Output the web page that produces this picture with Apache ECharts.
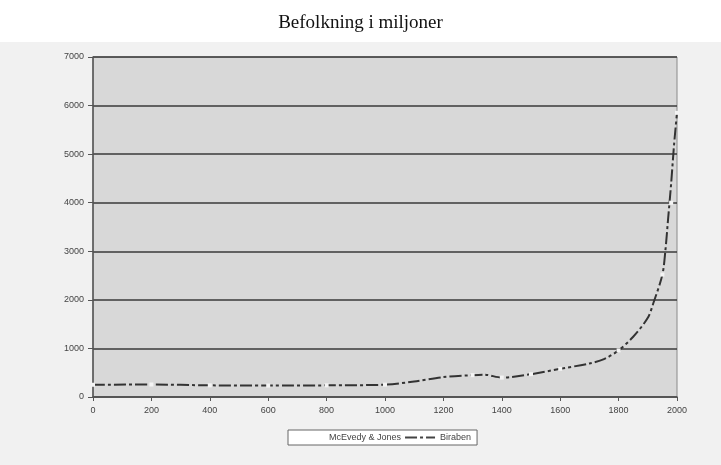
<!DOCTYPE html>
<html><head><meta charset="utf-8">
<script src="https://cdn.jsdelivr.net/npm/echarts@6/dist/echarts.min.js"></script>
<style>html,body{margin:0;padding:0;background:#fff}#c{width:721px;height:465px}</style>
</head><body><div id="c"></div>
<script>
const titleText = "Befolkning i miljoner";
const xTicks = [0, 200, 400, 600, 800, 1000, 1200, 1400, 1600, 1800, 2000];
const yTicks = [0, 1000, 2000, 3000, 4000, 5000, 6000, 7000];
const birabenYears = [0, 200, 400, 600, 800, 1000, 1100, 1200, 1300, 1340, 1400, 1500, 1600, 1700, 1750, 1800, 1850, 1900, 1920, 1950, 1960, 1970, 1980, 1990, 2000];
const birabenValues = [252, 257, 240, 235, 240, 254, 320, 410, 450, 460, 400, 470, 580, 690, 780, 960, 1240, 1630, 1950, 2520, 3000, 3700, 4400, 5200, 5850];
const mcEvedyYears = [0, 200, 400, 600, 800, 1000, 1300, 1400, 1500, 1600, 1800, 1950, 1980, 2000];
const mcEvedyValues = [252, 257, 240, 235, 240, 254, 450, 400, 470, 580, 960, 2520, 4000, 5850];
const seriesNames = ["McEvedy & Jones", "Biraben"];

const chart = echarts.init(document.getElementById('c'), null, {renderer: 'canvas'});
chart.setOption({
  backgroundColor: '#fff',
  animation: false,
  graphic: [{type: 'rect', z: -10, shape: {x: 0, y: 42, width: 721, height: 423}, style: {fill: '#f1f1f1'}}],
  title: {text: titleText, left: 'center', top: 9, textStyle: {fontFamily: 'Liberation Serif', fontWeight: 'normal', fontSize: 19, color: '#111'}},
  grid: {left: 93, right: 44, top: 57, bottom: 68, show: true, backgroundColor: '#d8d8d8', borderColor: '#8a8a8a', borderWidth: 1},
  legend: {
    top: 430, left: 288,
    data: [
      {name: seriesNames[0], icon: 'rect', itemStyle: {color: '#fff', opacity: 0}},
      {name: seriesNames[1], icon: 'path://M0 0H12V2H0ZM15 0H18V2H15ZM21 0H30V2H21Z', itemStyle: {color: '#444'}}
    ],
    backgroundColor: '#fff', borderColor: '#666', borderWidth: 1, padding: [3, 6, 3, 6], itemGap: 4, itemWidth: 30, itemHeight: 2,
    textStyle: {fontFamily: 'Liberation Sans', fontSize: 9, color: '#444'}
  },
  xAxis: {
    type: 'value', min: xTicks[0], max: xTicks[xTicks.length - 1], interval: 200,
    axisLine: {lineStyle: {color: '#555', width: 1.5}}, axisTick: {show: true, length: 4, lineStyle: {color: '#555'}},
    splitLine: {show: false},
    axisLabel: {fontFamily: 'Liberation Sans', fontSize: 9, color: '#444', margin: 9, formatter: v => String(v)}
  },
  yAxis: {
    type: 'value', min: yTicks[0], max: yTicks[yTicks.length - 1], interval: 1000,
    axisLine: {show: true, lineStyle: {color: '#555', width: 1.5}}, axisTick: {show: true, length: 5, lineStyle: {color: '#555'}},
    splitLine: {show: true, lineStyle: {color: '#3a3a3a', width: 1.5}},
    axisLabel: {fontFamily: 'Liberation Sans', fontSize: 9, color: '#444', margin: 9, formatter: v => String(v)}
  },
  series: [
    {
      name: seriesNames[1], type: 'line', z: 3,
      data: birabenYears.map((y, i) => [y, birabenValues[i]]),
      showSymbol: false, symbol: 'none', smooth: 0.3,
      itemStyle: {color: '#333'},
      lineStyle: {color: '#333', width: 2, type: [12, 3, 3, 3]}
    },
    {
      name: seriesNames[0], type: 'line', z: 4,
      data: mcEvedyYears.map((y, i) => [y, mcEvedyValues[i]]),
      symbol: 'rect', symbolSize: 4, showSymbol: true,
      itemStyle: {color: '#f4f4f4'},
      lineStyle: {color: '#fff', width: 0, opacity: 0}
    }
  ]
});
</script></body></html>
